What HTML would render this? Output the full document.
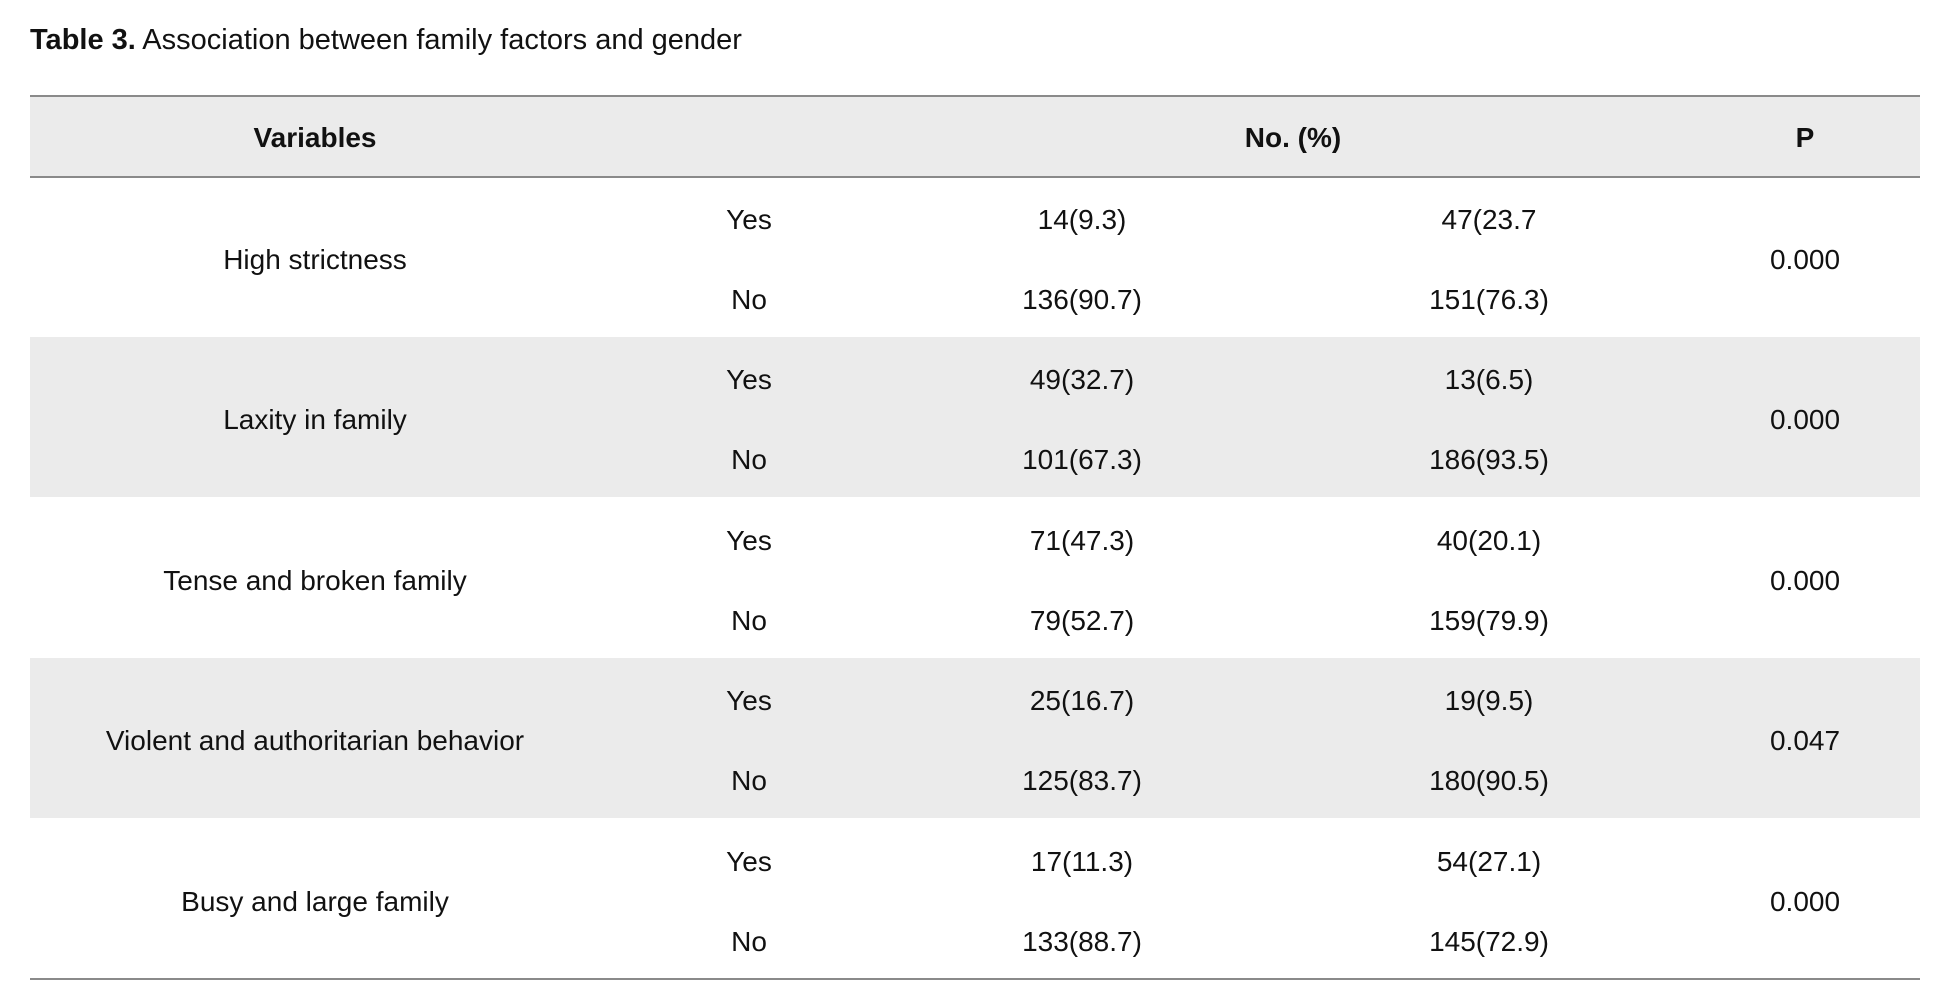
<!DOCTYPE html>
<html><head><meta charset="utf-8"><style>
body{margin:0;width:1950px;height:1002px;background:#fff;font-family:"Liberation Sans",sans-serif;color:#111;position:relative;overflow:hidden}
.a{position:absolute;transform:translate(-50%,-50%);white-space:nowrap;font-size:28px}
.band{position:absolute;left:30px;width:1890px;background:#ebebeb}
.line{position:absolute;left:30px;width:1890px;height:2px;background:#8a8a8a}
</style></head><body>
<div style="position:absolute;left:30px;top:24px;font-size:29px"><b>Table 3.</b> Association between family factors and gender</div>
<div class="band" style="top:96px;height:81px"></div>
<div class="band" style="top:337px;height:160px"></div>
<div class="band" style="top:658px;height:160px"></div>
<div class="line" style="top:95px"></div>
<div class="line" style="top:176px"></div>
<div class="line" style="top:978px"></div>
<div class="a" style="left:315px;top:138px;font-weight:bold">Variables</div>
<div class="a" style="left:1293px;top:138px;font-weight:bold">No. (%)</div>
<div class="a" style="left:1805px;top:138px;font-weight:bold">P</div>
<div id="rows"></div>
<script>
const labels=["High strictness","Laxity in family","Tense and broken family","Violent and authoritarian behavior","Busy and large family"];
const col1Yes=["14(9.3)","49(32.7)","71(47.3)","25(16.7)","17(11.3)"];
const col1No=["136(90.7)","101(67.3)","79(52.7)","125(83.7)","133(88.7)"];
const col2Yes=["47(23.7","13(6.5)","40(20.1)","19(9.5)","54(27.1)"];
const col2No=["151(76.3)","186(93.5)","159(79.9)","180(90.5)","145(72.9)"];
const pvals=["0.000","0.000","0.000","0.047","0.000"];
const root=document.getElementById('rows');
function cell(txt,x,y,name){
 const d=document.createElement('div');d.className='a';d.textContent=txt;
 d.style.left=x+'px';d.style.top=y+'px';
 
 
 root.appendChild(d);
}
labels.forEach((l,i)=>{
 const top=177+i*160.4, yes=top+43, no=top+123, mid=top+83;
 cell(l,315,mid,'variable-label');
 cell('Yes',749,yes,'yes-label');
 cell('No',749,no,'no-label');
 cell(col1Yes[i],1082,yes,'group1-yes-value');
 cell(col1No[i],1082,no,'group1-no-value');
 cell(col2Yes[i],1489,yes,'group2-yes-value');
 cell(col2No[i],1489,no,'group2-no-value');
 cell(pvals[i],1805,mid,'p-value');
});
</script>
</body></html>
